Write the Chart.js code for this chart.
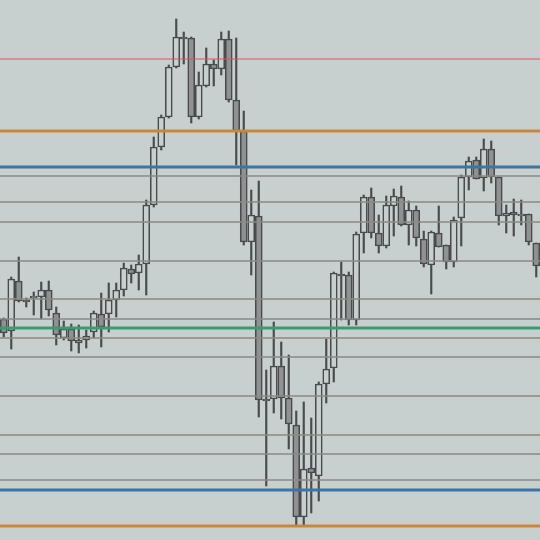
<!DOCTYPE html>
<html><head><meta charset="utf-8">
<script src="https://cdn.jsdelivr.net/npm/chart.js@4"></script>
<style>html,body{margin:0;padding:0;background:#c8d0cf}#wrap{width:540px;height:540px;position:relative}</style>
</head><body><div id="wrap"><canvas id="c"></canvas></div>
<script>
const categories = Array.from({length: 72}, (_, i) => String(i + 1));
const opens  = [221,209,259,240,242,243,250,227,202,211,197,200,208,226,226,240,250,271,267,276,335,393,423,473,503,502,423,454,476,471,501,440,409,298,324,141,141,174,142,115,23,72,64,156,172,266,265,220,307,343,307,294,334,343,315,330,301,275,307,295,278,322,363,380,362,391,363,324,328,324,326,297];
const highs  = [222,263,283,242,248,258,259,233,219,216,215,210,229,247,257,257,277,275,285,340,403,425,475,521,508,503,468,492,480,508,509,502,429,350,359,170,218,198,185,129,138,122,158,201,268,278,268,308,345,352,325,344,351,354,339,334,309,309,334,295,323,365,383,383,401,399,363,335,341,340,326,297];
const lows   = [203,191,238,233,225,221,224,195,200,189,187,192,202,193,208,223,244,257,250,245,333,390,422,472,476,417,421,453,454,465,438,375,295,265,123,54,127,121,91,15,14,27,39,137,158,220,215,215,287,302,287,292,304,314,295,294,273,246,293,271,273,294,350,361,349,357,315,307,304,315,295,263];
const closes = [207,261,239,238,244,250,230,205,211,199,200,204,227,213,240,250,272,266,276,335,393,423,473,503,501,423,455,476,471,501,440,409,298,325,140,139,174,142,116,23,71,67,156,171,267,264,220,306,343,307,294,335,344,315,330,302,276,308,293,278,320,363,379,361,391,363,324,327,325,326,298,274];
const levels = [481,409,373,364,338,318,279,241,221,212,202,183,144,105,86,60,50,14];
const levelKinds = ['red','orange','blue','grey','grey','grey','grey','grey','grey','green','grey','grey','grey','grey','grey','grey','blue','orange'];

const BG = '#c8d0cf';
const EDGE = '#4a4b4c';
const styles = {
  red:    {color:'#cf5a50', width:1.2},
  orange: {color:'#c9863c', width:3},
  blue:   {color:'#3a76a4', width:3},
  green:  {color:'#3a9a74', width:3},
  grey:   {color:'#8b8a82', width:1.3}
};

const bodies = opens.map((o, i) => [o, closes[i]]);
const wicks = lows.map((l, i) => [l, highs[i]]);
const fills = opens.map((o, i) => closes[i] >= o ? BG : '#8f9192');

const lineSets = levels.map((v, i) => {
  const s = styles[levelKinds[i]];
  return {
    type: 'line', xAxisID: 'x2', data: [{x: 0, y: v}, {x: 1, y: v}],
    borderColor: s.color, borderWidth: s.width, pointRadius: 0, order: 0
  };
});

new Chart(document.getElementById('c'), {
  data: {
    labels: categories,
    datasets: [
      {type: 'bar', data: wicks, backgroundColor: EDGE, borderWidth: 0, barThickness: 1.5, grouped: false, order: 3},
      {type: 'bar', data: bodies, backgroundColor: fills, borderColor: EDGE, borderWidth: 1.6, borderSkipped: false, barThickness: 7, grouped: false, order: 2},
      ...lineSets
    ]
  },
  options: {
    responsive: true, maintainAspectRatio: false, animation: false,
    layout: {padding: 0},
    plugins: {legend: {display: false}, tooltip: {enabled: false}},
    scales: {
      x: {display: false, offset: true},
      x2: {type: 'linear', display: false, min: 0, max: 1},
      y: {display: false, min: 0, max: 540}
    }
  }
});
</script>
</body></html>
